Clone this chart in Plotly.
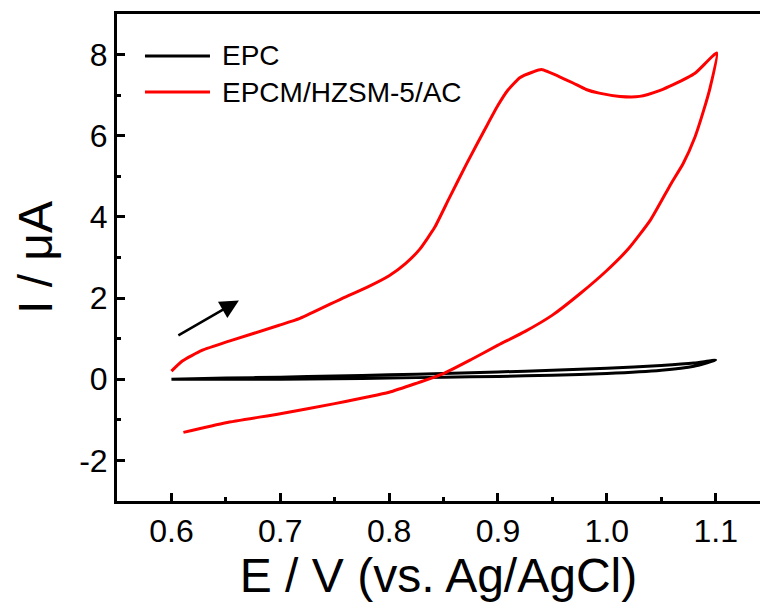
import plotly.graph_objects as go

# Cyclic voltammograms, potential in V vs. Ag/AgCl, current in µA
series_names = ["EPC", "EPCM/HZSM-5/AC"]
series_colors = ["black", "red"]

# Bare electrode (EPC): forward sweep then reverse sweep
epc_e = [0.600, 0.650, 0.700, 0.750, 0.800, 0.850, 0.900, 0.950, 1.000, 1.050, 1.080, 1.100,
         1.080, 1.050, 1.000, 0.950, 0.900, 0.850, 0.800, 0.750, 0.700, 0.650, 0.612]
epc_i = [0.00, 0.03, 0.05, 0.08, 0.11, 0.14, 0.18, 0.22, 0.27, 0.34, 0.40, 0.47,
         0.32, 0.22, 0.14, 0.10, 0.07, 0.05, 0.03, 0.01, 0.00, 0.00, 0.00]

# Modified electrode (EPCM/HZSM-5/AC): forward sweep then reverse sweep
mod_e = [0.600, 0.610, 0.628, 0.653, 0.699, 0.718, 0.759, 0.780, 0.800, 0.815, 0.828, 0.842,
         0.855, 0.871, 0.889, 0.900, 0.909, 0.920, 0.932, 0.940, 0.960, 0.969, 0.981, 0.993,
         1.012, 1.030, 1.049, 1.061, 1.081, 1.101,
         1.095, 1.089, 1.081, 1.070, 1.059, 1.040, 1.020, 1.000, 0.975, 0.950, 0.925, 0.900,
         0.875, 0.850, 0.825, 0.800, 0.750, 0.700, 0.650, 0.611]
mod_i = [0.20, 0.45, 0.71, 0.94, 1.33, 1.50, 2.02, 2.27, 2.55, 2.85, 3.20, 3.75,
         4.45, 5.30, 6.21, 6.75, 7.12, 7.43, 7.57, 7.63, 7.41, 7.30, 7.14, 7.05,
         6.97, 6.97, 7.12, 7.26, 7.54, 8.04,
         7.20, 6.63, 5.97, 5.31, 4.82, 3.92, 3.22, 2.68, 2.10, 1.58, 1.18, 0.84,
         0.48, 0.14, -0.10, -0.32, -0.60, -0.85, -1.07, -1.31]

x_ticks = [0.6, 0.7, 0.8, 0.9, 1.0, 1.1]
x_tick_text = ["0.6", "0.7", "0.8", "0.9", "1.0", "1.1"]
y_ticks = [-2, 0, 2, 4, 6, 8]
y_tick_text = ["-2", "0", "2", "4", "6", "8"]

# Scan-direction arrow: tail and head (E, I)
arrow_tail = (0.605, 1.06)
arrow_head = (0.662, 1.94)

FONT = "Liberation Sans, Arial, sans-serif"

fig = go.Figure()
for name, color, xs, ys in [(series_names[0], series_colors[0], epc_e, epc_i),
                            (series_names[1], series_colors[1], mod_e, mod_i)]:
    fig.add_trace(go.Scatter(x=xs, y=ys, mode="lines", name=name,
                             line=dict(color=color, width=3, shape="spline", smoothing=0.5),
                             showlegend=False))

axis_common = dict(
    showline=True, linecolor="black", linewidth=3,
    ticks="inside", ticklen=8, tickwidth=2.5, tickcolor="black",
    showgrid=False, zeroline=False,
    tickfont=dict(family=FONT, size=32, color="black"),
)

fig.update_xaxes(
    range=[0.55, 1.1407], tickvals=x_ticks, ticktext=x_tick_text, mirror=True,
    minor=dict(dtick=0.05, tick0=0.55, ticks="inside", ticklen=4, tickwidth=2.5, tickcolor="black"),
    title=dict(text="E / V (vs. Ag/AgCl)", font=dict(family=FONT, size=48, color="black"), standoff=8),
    **axis_common,
)
fig.update_yaxes(
    range=[-3, 9], tickvals=y_ticks, ticktext=y_tick_text, mirror=False,
    minor=dict(dtick=1, tick0=-3, ticks="inside", ticklen=4, tickwidth=2.5, tickcolor="black"),
    title=dict(text="I / μA", font=dict(family=FONT, size=48, color="black"), standoff=12),
    **axis_common,
)

# Legend drawn as line samples with labels in the upper-left corner
legend_rows = [0.9138, 0.8398]
for name, color, yrow in zip(series_names, series_colors, legend_rows):
    fig.add_shape(type="line", xref="paper", yref="paper", x0=0.0435, x1=0.1446,
                  y0=yrow, y1=yrow, line=dict(color=color, width=3))
    fig.add_annotation(xref="paper", yref="paper", x=0.1602, y=yrow, text=name,
                       showarrow=False, xanchor="left", yanchor="middle",
                       font=dict(family=FONT, size=28, color="black"))

fig.add_annotation(x=arrow_head[0], y=arrow_head[1], ax=arrow_tail[0], ay=arrow_tail[1],
                   xref="x", yref="y", axref="x", ayref="y", text="", showarrow=True,
                   arrowhead=2, arrowsize=1.5, arrowwidth=2.5, arrowcolor="black")

fig.update_layout(
    width=760, height=605,
    margin=dict(l=117, r=0, t=14, b=104),
    plot_bgcolor="white", paper_bgcolor="white",
    showlegend=False,
)

fig.write_html("out.html")
